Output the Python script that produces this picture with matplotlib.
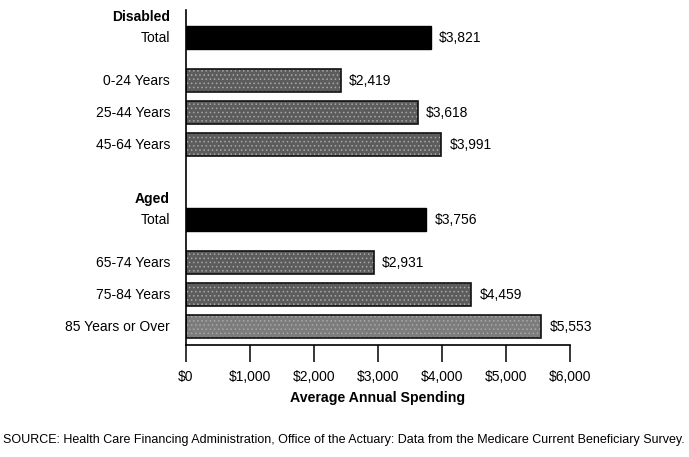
import matplotlib
matplotlib.use("Agg")
import matplotlib.pyplot as plt

plt.rcParams["font.family"] = ["Liberation Sans", "DejaVu Sans"]
plt.rcParams["hatch.linewidth"] = 0.6

groups = ["Disabled", "Aged"]
disabled_labels = ["Total", "0-24 Years", "25-44 Years", "45-64 Years"]
disabled_values = [3821, 2419, 3618, 3991]
aged_labels = ["Total", "65-74 Years", "75-84 Years", "85 Years or Over"]
aged_values = [3756, 2931, 4459, 5553]

xticks = [0, 1000, 2000, 3000, 4000, 5000, 6000]
xlabel = "Average Annual Spending"
source = ("SOURCE: Health Care Financing Administration, Office of the Actuary: "
          "Data from the Medicare Current Beneficiary Survey.")

# layout (pixel-like units, y axis inverted)
group_start = [38, 220]
row_offset = [0, 43, 75, 107]
bar_h = 23

fig = plt.figure(figsize=(6.89, 4.57), dpi=100)
ax = fig.add_axes([186 / 689, 1 - 345 / 457, 384 / 689, 335 / 457])
ax.set_ylim(345, 10)
ax.set_xlim(0, 6000)

all_groups = [(disabled_labels, disabled_values), (aged_labels, aged_values)]
for g, (labels, values) in enumerate(all_groups):
    y0 = group_start[g]
    for i, (lab, val) in enumerate(zip(labels, values)):
        y = y0 + row_offset[i]
        if i == 0:
            ax.barh(y, val, height=bar_h, color="black", edgecolor="black", lw=1)
        else:
            face = "#7c7c7c" if (g == 1 and i == 3) else "#5c5c5c"
            ax.barh(y, val, height=bar_h, color=face, edgecolor="#a8a8a8",
                    hatch="....", lw=0)
            ax.barh(y, val, height=bar_h, fill=False, edgecolor="#111111", lw=1.2)
        ax.annotate(f"${val:,}", (val, y), xytext=(6, 0), textcoords="offset points",
                    va="center", ha="left", fontsize=10)
        ax.text(-16 / 384 * 6000, y, lab, ha="right", va="center", fontsize=10)
    ax.text(-16 / 384 * 6000, y0 - 21, groups[g], ha="right", va="center",
            fontsize=10, fontweight="bold")

ax.spines["top"].set_visible(False)
ax.spines["right"].set_visible(False)
ax.spines["left"].set_linewidth(1.2)
ax.spines["bottom"].set_linewidth(1.2)
ax.set_yticks([])
ax.set_xticks(xticks, labels=[f"${t:,}" for t in xticks], fontsize=10)
ax.tick_params(axis="x", direction="out", length=12, width=1.1, pad=6)

fig.text(378 / 689, 1 - 398 / 457, xlabel, ha="center", va="center",
         fontsize=10.2, fontweight="bold")
fig.text(344 / 689, 1 - 440 / 457, source, ha="center", va="center", fontsize=9)

fig.savefig("out.png", dpi=100)
